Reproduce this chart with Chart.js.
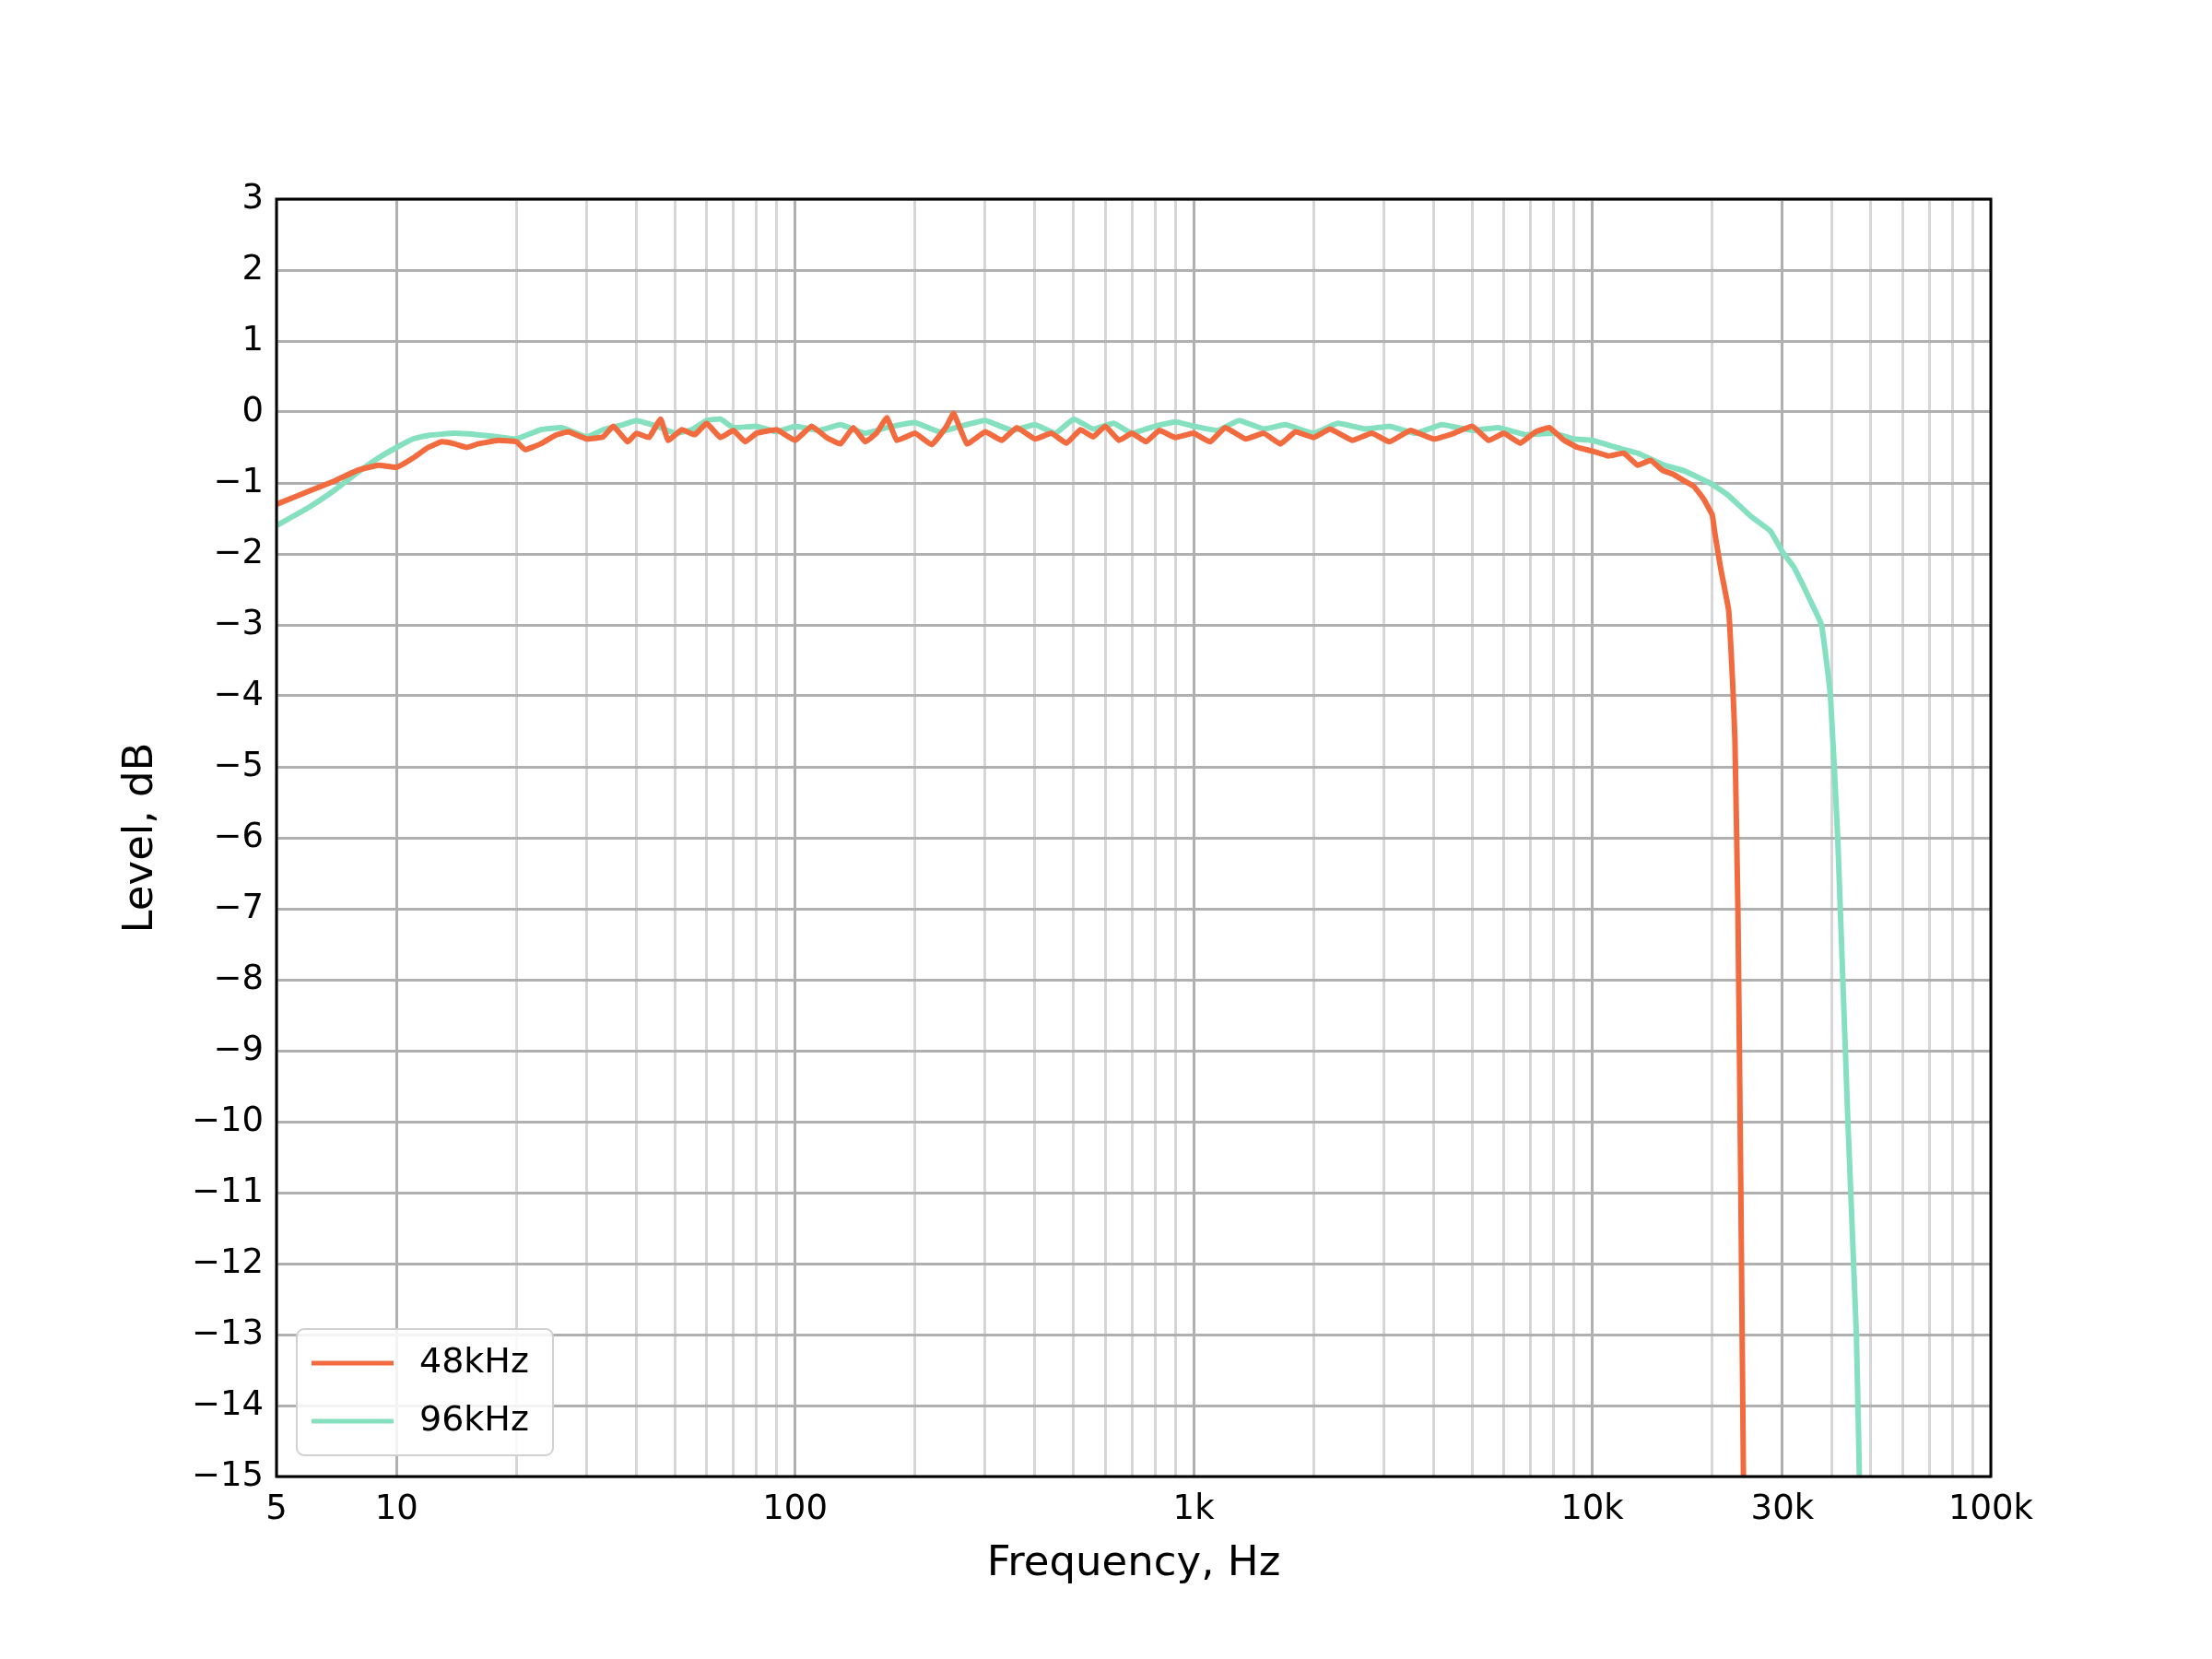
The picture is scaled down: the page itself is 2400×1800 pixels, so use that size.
<!DOCTYPE html>
<html>
<head>
<meta charset="utf-8">
<style>
  html, body { margin: 0; padding: 0; background: #fff; }
  #wrap { width: 2400px; height: 1800px; }
</style>
</head>
<body>
<div id="wrap"><canvas id="fr" width="2400" height="1800"></canvas></div>
<script src="https://cdn.jsdelivr.net/npm/chart.js@4.4.1/dist/chart.umd.min.js"></script>
<script>
// series labels and colours
const seriesNames = ['48kHz', '96kHz'];
const seriesColors = ['#f26b3f', '#85e0bf'];

// 48 kHz measurement (Hz / dB)
const freq48 = [5, 6, 7, 8, 9, 10, 11, 12, 13, 14, 15, 16, 18, 20, 21, 23, 25, 27, 30, 33, 35, 38, 40, 43, 46, 48, 52, 56, 60, 65, 70, 75, 80, 90,
  100, 110, 120, 130, 140, 150, 160, 170, 180, 200, 220, 240, 250, 270, 300, 330, 360, 400, 440, 480, 520, 560, 600, 650, 700, 760, 820, 900,
  1000, 1100, 1200, 1350, 1500, 1650, 1800, 2000, 2200, 2500, 2800, 3100, 3500, 4000, 4500, 5000, 5500, 6000, 6600, 7200, 7800, 8500, 9200,
  10000, 11000, 12000, 13000, 14000, 15000, 16000, 17000, 18000, 19000, 20000, 20300, 21000, 22000, 22500, 22800, 23200, 23600, 24000];
const level48 = [-1.3, -1.12, -0.97, -0.82, -0.75, -0.78, -0.65, -0.5, -0.42, -0.45, -0.5, -0.45, -0.4, -0.42, -0.53, -0.45, -0.33, -0.28, -0.38, -0.35, -0.2, -0.42, -0.3, -0.36, -0.1, -0.4, -0.25, -0.32, -0.16, -0.36, -0.26, -0.42, -0.3, -0.25,
  -0.4, -0.2, -0.36, -0.45, -0.22, -0.42, -0.3, -0.08, -0.4, -0.3, -0.46, -0.2, -0.02, -0.45, -0.28, -0.4, -0.22, -0.38, -0.3, -0.44, -0.25, -0.35, -0.2, -0.4, -0.3, -0.42, -0.26, -0.36,
  -0.3, -0.42, -0.22, -0.38, -0.3, -0.45, -0.28, -0.36, -0.24, -0.4, -0.3, -0.42, -0.26, -0.38, -0.3, -0.2, -0.4, -0.3, -0.44, -0.28, -0.22, -0.4, -0.5,
  -0.55, -0.62, -0.58, -0.75, -0.68, -0.82, -0.88, -0.97, -1.05, -1.22, -1.45, -1.7, -2.2, -2.8, -3.8, -4.6, -7, -11, -15.5];

// 96 kHz measurement (Hz / dB)
const freq96 = [5, 6, 7, 8, 9, 10, 11, 12, 14, 16, 18, 20, 23, 26, 30, 33, 37, 40, 45, 50, 55, 60, 65, 70, 80, 90,
  100, 115, 130, 150, 170, 200, 230, 260, 300, 350, 400, 450, 500, 560, 630, 700, 800, 900,
  1000, 1150, 1300, 1500, 1700, 2000, 2300, 2700, 3100, 3600, 4200, 5000, 5800, 6800, 8000, 9000,
  10000, 11500, 13000, 15000, 17000, 20000, 22000, 25000, 28000, 30000, 32000, 35000, 37600, 39600, 41300, 43800, 46000, 47000];
const level96 = [-1.6, -1.35, -1.1, -0.85, -0.65, -0.5, -0.38, -0.33, -0.3, -0.32, -0.35, -0.38, -0.25, -0.22, -0.35, -0.25, -0.18, -0.12, -0.2, -0.3, -0.25, -0.12, -0.1, -0.22, -0.2, -0.28,
  -0.2, -0.26, -0.18, -0.3, -0.22, -0.15, -0.28, -0.2, -0.12, -0.26, -0.18, -0.3, -0.1, -0.24, -0.16, -0.3, -0.2, -0.14,
  -0.2, -0.26, -0.12, -0.24, -0.18, -0.3, -0.16, -0.24, -0.2, -0.3, -0.18, -0.26, -0.22, -0.32, -0.3, -0.38,
  -0.4, -0.5, -0.58, -0.74, -0.83, -1.02, -1.18, -1.47, -1.68, -1.97, -2.18, -2.62, -3.0, -4.0, -6.0, -10.0, -13.0, -15.5];

const xLabels = { 5: '5', 10: '10', 100: '100', 1000: '1k', 10000: '10k', 30000: '30k', 100000: '100k' };
const xMajor = [10, 100, 1000, 10000, 30000];

const pts = (f, l) => f.map((v, i) => ({ x: v, y: l[i] }));

const frame = {
  id: 'frame',
  afterDraw(chart) {
    const { ctx, chartArea: a } = chart;
    ctx.save();
    ctx.strokeStyle = '#000';
    ctx.lineWidth = 3;
    ctx.strokeRect(a.left, a.top, a.right - a.left, a.bottom - a.top);
    // axis titles
    ctx.fillStyle = '#000';
    ctx.font = '45px "DejaVu Sans"';
    ctx.textAlign = 'center';
    ctx.textBaseline = 'middle';
    ctx.fillText('Frequency, Hz', (a.left + a.right) / 2, 1697);
    ctx.translate(153, (a.top + a.bottom) / 2);
    ctx.rotate(-Math.PI / 2);
    ctx.fillText('Level, dB', 0, 0);
    ctx.restore();
    // legend
    ctx.save();
    const bx = 322, by = 1442, bw = 278, bh = 137;
    ctx.fillStyle = 'rgba(255,255,255,0.85)';
    ctx.strokeStyle = '#d0d0d0';
    ctx.lineWidth = 2;
    ctx.beginPath();
    ctx.roundRect(bx, by, bw, bh, 8);
    ctx.fill();
    ctx.stroke();
    ctx.font = '38px "DejaVu Sans"';
    ctx.textBaseline = 'middle';
    seriesNames.forEach((n, i) => {
      const y = by + 37 + i * 63;
      ctx.strokeStyle = seriesColors[i];
      ctx.lineWidth = 5;
      ctx.beginPath();
      ctx.moveTo(bx + 16, y);
      ctx.lineTo(bx + 105, y);
      ctx.stroke();
      ctx.fillStyle = '#000';
      ctx.fillText(n, bx + 133, y);
    });
    ctx.restore();
  }
};

new Chart(document.getElementById('fr'), {
  type: 'line',
  data: {
    datasets: [
      { label: seriesNames[0], data: pts(freq48, level48), borderColor: seriesColors[0], borderWidth: 6, pointRadius: 0, tension: 0.1 },
      { label: seriesNames[1], data: pts(freq96, level96), borderColor: seriesColors[1], borderWidth: 6, pointRadius: 0, tension: 0.1 },
    ],
  },
  options: {
    responsive: false,
    animation: false,
    devicePixelRatio: 1,
    layout: { padding: { left: 0, top: 216, right: 240, bottom: 0 } },
    plugins: { legend: { display: false }, tooltip: { enabled: false } },
    scales: {
      x: {
        type: 'logarithmic',
        min: 5,
        max: 100000,
        afterFit: (s) => { s.height = 198; },
        afterBuildTicks: (s) => {
          const t = [5];
          for (let d = 10; d <= 10000; d *= 10) {
            for (let m = 1; m <= 9; m++) t.push(m * d);
          }
          t.push(100000);
          s.ticks = t.map((v) => ({ value: v }));
        },
        ticks: {
          autoSkip: false,
          maxRotation: 0,
          color: '#000',
          font: { family: 'DejaVu Sans', size: 37 },
          padding: 14,
          callback: (v) => xLabels[v] || '',
        },
        grid: {
          drawTicks: false,
          lineWidth: 3,
          color: (c) => (xMajor.includes(c.tick && c.tick.value) ? '#b0b0b0' : '#d6d6d6'),
        },
        border: { display: false },
      },
      y: {
        min: -15,
        max: 3,
        afterFit: (s) => { s.width = 300; },
        ticks: {
          stepSize: 1,
          color: '#000',
          font: { family: 'DejaVu Sans', size: 37 },
          padding: 14,
          callback: (v) => String(v).replace('-', '\u2212'),
        },
        grid: { drawTicks: false, lineWidth: 3, color: '#b0b0b0' },
        border: { display: false },
      },
    },
  },
  plugins: [frame],
});
</script>
</body>
</html>
